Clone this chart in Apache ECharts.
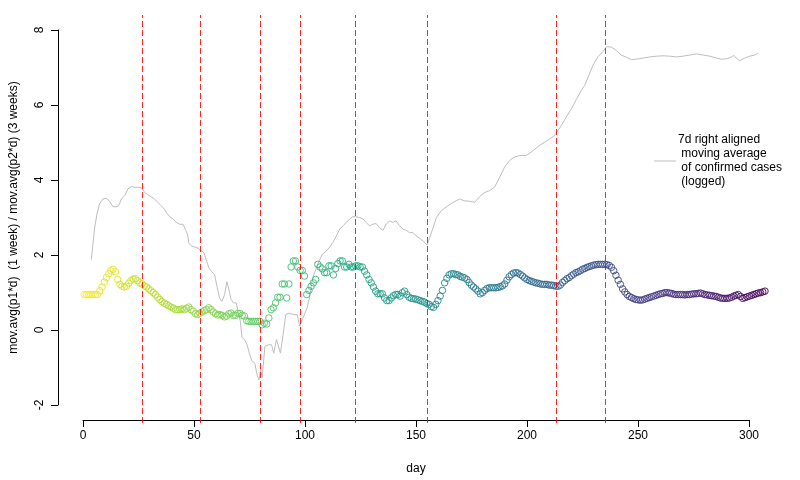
<!DOCTYPE html>
<html><head><meta charset="utf-8">
<script src="https://cdn.jsdelivr.net/npm/echarts@6/dist/echarts.min.js"></script>
<style>html,body{margin:0;padding:0;background:#fff}#c{width:800px;height:480px}</style>
</head><body><div id="c"></div>
<script>
// ratio of moving averages, one value per day starting at day 1
const ratioValues = [
1.0,1.0,1.0,1.0,1.0,1.0,1.0,1.1,1.2,1.33,
1.45,1.55,1.63,1.67,1.6,1.4,1.27,1.22,1.2,1.22,
1.3,1.37,1.41,1.42,1.37,1.31,1.28,1.23,1.2,1.15,
1.1,1.05,1.0,0.93,0.87,0.81,0.77,0.74,0.7,0.67,
0.64,0.6,0.6,0.6,0.62,0.6,0.64,0.67,0.6,0.56,
0.49,0.47,0.51,0.54,0.58,0.6,0.65,0.6,0.54,0.49,
0.46,0.47,0.45,0.41,0.43,0.49,0.51,0.45,0.45,0.5,
0.5,0.45,0.43,0.31,0.29,0.29,0.29,0.29,0.29,0.29,
0.2,0.24,0.22,0.38,0.6,0.65,0.78,0.93,0.93,1.28,
1.28,0.91,1.28,1.73,1.89,1.89,1.73,1.64,1.64,1.49,
1.0,1.11,1.22,1.31,1.4,1.8,1.73,1.68,1.58,1.58,
1.76,1.76,1.52,1.69,1.82,1.89,1.89,1.73,1.73,1.8,
1.73,1.73,1.76,1.76,1.73,1.73,1.62,1.52,1.4,1.31,
1.2,1.09,1.02,1.02,1.02,0.91,0.84,0.84,0.91,0.97,
1.0,1.0,0.96,1.05,1.09,1.0,0.93,0.9,0.89,0.88,
0.86,0.84,0.82,0.8,0.76,0.74,0.68,0.66,0.74,0.84,
0.96,1.11,1.31,1.43,1.52,1.55,1.55,1.53,1.52,1.48,
1.46,1.44,1.4,1.32,1.25,1.2,1.15,1.09,1.02,1.05,
1.11,1.16,1.18,1.18,1.18,1.18,1.19,1.21,1.23,1.28,
1.38,1.47,1.53,1.57,1.58,1.57,1.53,1.49,1.44,1.4,
1.37,1.35,1.33,1.31,1.3,1.28,1.27,1.27,1.27,1.25,
1.25,1.24,1.22,1.22,1.25,1.32,1.37,1.42,1.45,1.5,
1.54,1.58,1.6,1.63,1.67,1.69,1.72,1.74,1.76,1.78,
1.79,1.8,1.8,1.8,1.8,1.79,1.77,1.72,1.63,1.51,
1.38,1.27,1.15,1.07,1.0,0.95,0.92,0.89,0.87,0.86,
0.85,0.86,0.88,0.9,0.92,0.94,0.96,0.98,1.0,1.02,
1.03,1.05,1.05,1.04,1.03,1.01,1.0,1.0,1.0,1.0,
0.99,1.0,1.0,1.01,1.02,1.02,1.03,1.04,1.02,1.0,
0.99,0.98,0.97,0.96,0.95,0.93,0.91,0.9,0.9,0.9,
0.91,0.93,0.96,0.98,1.0,0.95,0.9,0.92,0.94,0.96,
0.98,1.0,1.02,1.04,1.05,1.07,1.09
];
const firstDay = 1;

// 7d moving average of confirmed cases (logged)
const casesDays = [4.2,4.9,5.7,6.7,7.9,9.4,10.9,12.4,13.9,15.4,16.5,17.7,19.2,20.7,22.2,23.7,25.1,26.6,28.1,29.6,31.1,32.6,34.1,35.6,37.1,37.9,39.4,40.9,42.4,43.9,45.4,46.4,47.4,48.1,49.1,50.6,52.1,53.3,54.8,55.8,57,58.1,59.6,60.8,61.8,62.9,64.1,65.1,66,67,68.1,69.3,70.3,71.2,71.9,73,74.2,75.3,76.3,77.7,78.7,79.6,80.3,81,82.2,83.7,85.2,86.2,87.4,88.2,89.2,90.4,91.6,93.1,95,96.7,97.9,98.6,100.1,101.2,102.4,103.1,104.2,105.4,106.6,108,109.8,111.4,112.8,114.3,115.8,117.3,118.8,120.3,121.7,123.2,124.7,126.3,127.7,129.2,130.7,132.2,133.7,135.3,136.7,138.2,139.7,141.2,142.7,144.3,145.7,147.2,148.8,150.3,151.8,153.3,155.1,156.3,157.8,159.3,161.5,163.7,166,168.2,169.7,172,174.2,176.5,178.7,180.9,183.2,185.4,187.7,189.9,192.2,194.4,196.7,199.7,201.9,204.2,205.7,207.9,210.2,212.4,213.2,215.5,217.7,220,222.2,224.5,226,227.5,229.7,232,234.2,235.7,238,240.2,242.4,244.7,247,249.2,252.2,255.2,258.2,261.2,264.2,267.2,270.2,273.2,276.2,279.2,282.2,285.2,287.4,289.7,291.9,293,294.1,295.6,297.9,300.1,302.4,303.9];
const casesValues = [1.93,2.33,2.77,3.13,3.4,3.53,3.55,3.47,3.33,3.32,3.35,3.53,3.62,3.8,3.86,3.84,3.84,3.83,3.71,3.64,3.59,3.53,3.44,3.35,3.26,3.17,3.06,3.0,2.91,2.86,2.86,2.73,2.6,2.35,2.29,2.26,2.23,2.17,2.11,1.93,1.71,1.62,1.53,1.18,0.91,0.82,1.0,1.34,1.14,0.87,0.78,0.78,0.51,0.29,-0.13,-0.19,-0.33,-0.57,-0.75,-0.82,-1.13,-1.26,-0.96,-1.2,-0.37,-0.33,-0.33,-0.55,-0.19,-0.19,-0.55,-0.06,0.47,0.51,0.47,0.47,0.16,0.29,0.49,0.65,0.96,1.27,1.53,1.71,1.89,2.07,2.15,2.26,2.38,2.55,2.73,2.82,2.91,3.0,3.06,3.06,3.04,3.0,2.91,2.82,2.86,2.88,2.77,2.7,2.86,2.95,2.91,2.95,2.82,2.73,2.7,2.64,2.64,2.55,2.49,2.42,2.31,2.51,2.77,3.04,3.22,3.32,3.41,3.48,3.53,3.48,3.47,3.44,3.59,3.7,3.75,3.84,4.1,4.37,4.55,4.64,4.68,4.68,4.77,4.88,4.95,5.03,5.12,5.21,5.26,5.48,5.7,5.92,6.16,6.41,6.54,6.76,7.07,7.3,7.43,7.56,7.55,7.46,7.34,7.28,7.22,7.23,7.26,7.29,7.31,7.32,7.31,7.29,7.31,7.34,7.37,7.34,7.31,7.26,7.23,7.24,7.29,7.33,7.26,7.19,7.26,7.31,7.34,7.39];

const eventDays = [27,53,80,98,123,155,213,235];
const xTicks = [0,50,100,150,200,250,300];
const yTicks = [-2,0,2,4,6,8];
const casesLabel = '7d right aligned\n moving average\n of confirmed cases\n (logged)';
const xTitle = 'day';
const yTitle = 'mov.avg(p1*d)  (1 week) / mov.avg(p2*d) (3 weeks)';

const viridis = ['#FDE725','#BBDF27','#7AD151','#43BF71','#22A884','#21908C','#2A788E','#355F8D','#414487','#482475','#440154'];
function hex2rgb(h){return [parseInt(h.slice(1,3),16),parseInt(h.slice(3,5),16),parseInt(h.slice(5,7),16)];}
function colorAt(t){
  const p = t*(viridis.length-1); const i = Math.min(Math.floor(p), viridis.length-2); const f = p-i;
  const a = hex2rgb(viridis[i]), b = hex2rgb(viridis[i+1]);
  return 'rgb('+a.map((v,k)=>Math.round(v+(b[k]-v)*f)).join(',')+')';
}

const n = ratioValues.length;
const pointData = ratioValues.map((v,i)=>({value:[firstDay+i, v], itemStyle:{borderColor: colorAt(i/(n-1))}}));
const lineData = casesDays.map((d,i)=>[d, casesValues[i]]);

const FONT = '"Liberation Sans", Arial, sans-serif';
const chart = echarts.init(document.getElementById('c'), null, {renderer:'canvas'});
chart.setOption({
  animation:false,
  backgroundColor:'#ffffff',
  grid:[
    {left:57, right:10, top:15, bottom:57},
    {left:82, right:51, top:30, bottom:72}
  ],
  xAxis:[
    {gridIndex:0, type:'value', min:-11.24, max:318.24, show:false},
    {gridIndex:1, type:'value', min:0, max:300, interval:50, position:'bottom', offset:15,
     axisLine:{show:true, onZero:false, lineStyle:{color:'#000', width:1}},
     axisTick:{show:true, length:7, lineStyle:{color:'#000'}},
     axisLabel:{show:true, color:'#000', fontSize:12, fontFamily:FONT, margin:10, customValues:xTicks},
     splitLine:{show:false},
     name:xTitle, nameLocation:'middle', nameGap:43, nameTextStyle:{color:'#000', fontSize:12, fontFamily:FONT}}
  ],
  yAxis:[
    {gridIndex:0, type:'value', min:-2.4, max:8.4, show:false},
    {gridIndex:1, type:'value', min:-2, max:8, interval:2, position:'left', offset:25,
     axisLine:{show:true, onZero:false, lineStyle:{color:'#000', width:1}},
     axisTick:{show:true, length:7, lineStyle:{color:'#000'}},
     axisLabel:{show:true, color:'#000', fontSize:12, fontFamily:FONT, rotate:90, margin:12, customValues:yTicks},
     splitLine:{show:false},
     name:yTitle, nameLocation:'middle', nameGap:38, nameRotate:90, nameTextStyle:{color:'#000', fontSize:12, fontFamily:FONT}}
  ],
  legend:{
    show:true, left:649, top:128, orient:'vertical',
    icon:'rect', itemWidth:22, itemHeight:1, itemGap:0,
    textStyle:{color:'#000', fontSize:12, fontFamily:FONT, lineHeight:14, padding:[0,0,0,-3]},
    data:[{name:casesLabel, itemStyle:{color:'#BEBEBE'}}]
  },
  series:[
    {
      name:casesLabel, type:'line', xAxisIndex:0, yAxisIndex:0, data:lineData,
      symbol:'none', showSymbol:false, lineStyle:{color:'#BEBEBE', width:1}, itemStyle:{color:'#BEBEBE'},
      silent:true, z:2,
      markLine:{
        silent:true, symbol:['none','none'], label:{show:false},
        lineStyle:{color:'#FF0000', type:[6,3], width:1, opacity:0.85},
        data:eventDays.map(d=>({xAxis:d}))
      }
    },
    {
      name:'ratio', type:'scatter', xAxisIndex:0, yAxisIndex:0, data:pointData,
      symbol:'circle', symbolSize:6.5, itemStyle:{color:'rgba(0,0,0,0)', borderWidth:1, opacity:0.9},
      silent:true, z:3
    }
  ]
});
</script></body></html>
